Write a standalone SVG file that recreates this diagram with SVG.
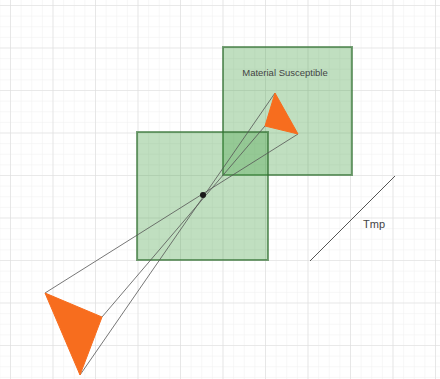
<svg xmlns="http://www.w3.org/2000/svg" width="440" height="379" viewBox="0 0 440 379">
  <defs>
    <pattern id="minor" width="10.625" height="10.625" patternUnits="userSpaceOnUse" x="10" y="5">
      <path d="M0 0H10.625M0 0V10.625" fill="none" stroke="#efefef" stroke-width="1"/>
    </pattern>
    <pattern id="major" width="42.5" height="42.5" patternUnits="userSpaceOnUse" x="10" y="5">
      <path d="M0 0H42.5M0 0V42.5" fill="none" stroke="#dcdcdc" stroke-width="1.2"/>
    </pattern>
  </defs>
  <style>
    .sq { fill: #3a9a3a; fill-opacity: 0.32; stroke: #2f6f2f; stroke-opacity: 0.65; stroke-width: 2; }
    .tri { fill: #f76d1e; stroke: #f76d1e; stroke-width: 1; stroke-linejoin: round; }
    .ray { stroke: #555; stroke-opacity: 0.8; stroke-width: 1; fill: none; }
    .lbl { font-family: "Liberation Sans", Arial, sans-serif; fill: #444; }
  </style>
  <rect width="440" height="379" fill="#fff"/>
  <rect width="440" height="379" fill="url(#minor)"/>
  <rect width="440" height="379" fill="url(#major)"/>

  <g id="material-square">
    <rect class="sq" x="223" y="47" width="129" height="128"/>
    <text class="lbl" x="285" y="76" font-size="9.5" text-anchor="middle">Material Susceptible</text>
  </g>
  <g id="lower-square">
    <rect class="sq" x="137" y="132" width="131" height="128"/>
  </g>

  <g id="connectors">
    <line class="ray" x1="45" y1="293" x2="298" y2="134"/>
    <line class="ray" x1="102" y1="317" x2="265" y2="126"/>
    <line class="ray" x1="80" y1="375" x2="275" y2="93"/>
  </g>

  <g id="small-triangle">
    <polygon class="tri" points="275,93 265,126 298,134"/>
  </g>
  <g id="large-triangle">
    <polygon class="tri" points="45,293 102,317 80,375"/>
  </g>
  <g id="pinhole">
    <circle cx="203" cy="195" r="3" fill="#1a1a1a"/>
  </g>
  <g id="tmp">
    <line x1="310" y1="261" x2="395" y2="176" stroke="#555" stroke-width="1"/>
    <text class="lbl" x="363" y="228" font-size="11">Tmp</text>
  </g>
</svg>
